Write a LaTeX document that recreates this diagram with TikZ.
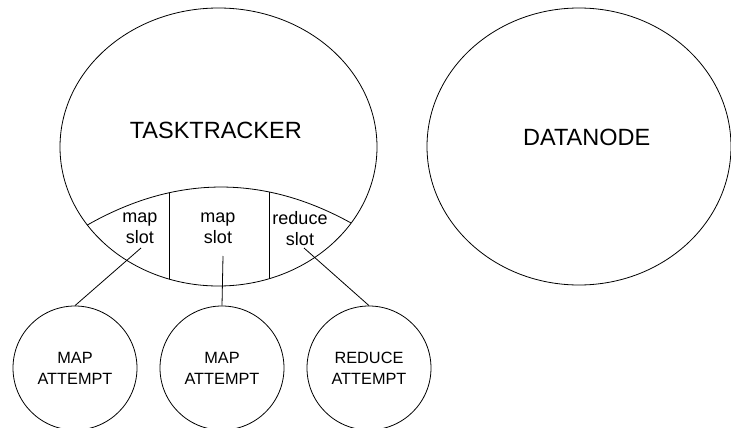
\documentclass[tikz,border=0pt]{standalone}
\usepackage{fontspec}
\setmainfont{Liberation Sans}
\usetikzlibrary{shapes.geometric}
\tikzset{
  line/.style={draw=black, line width=0.8pt},
  bigell/.style={ellipse, line, inner sep=0pt},
  attempt/.style={circle, line, minimum size=124pt, inner sep=0pt, align=center, font=\fontsize{16.3}{21}\selectfont},
  biglabel/.style={inner sep=0pt, font=\fontsize{23.5}{28}\selectfont},
  slotlabel/.style={inner sep=0pt, align=center, font=\fontsize{18}{21}\selectfont},
}
\begin{document}
\begin{tikzpicture}[x=1pt, y=-1pt]
\useasboundingbox (0,0) rectangle (731,428);
% main ellipses
\node[bigell, minimum width=317pt, minimum height=278pt] (tt) at (218.5,147) {};
\node[bigell, minimum width=304pt, minimum height=277pt] (dn) at (579,146.5) {};
\node[biglabel] (ttl) at (215.8,130) {TASKTRACKER};
\node[biglabel] (dnl) at (586.7,137) {DATANODE};
% slot arc and dividers, clipped to the tasktracker ellipse
\begin{scope}
  \clip (218.5,147) ellipse [x radius=158.5pt, y radius=139pt];
  \draw[line] (50,249.2) .. controls (164,166.3) and (278,166.3) .. (392,249.2);
  \clip (50,249.2) .. controls (164,166.3) and (278,166.3) .. (392,249.2) -- (392,320) -- (50,320) -- cycle;
  \draw[line] (169,150) -- (169,320);
  \draw[line] (269,150) -- (269,320);
\end{scope}
% slot labels
\node[slotlabel] (s1) at (140,228.5) {map\\slot};
\node[slotlabel] (s2) at (218,228.5) {map\\slot};
\node[slotlabel] (s3) at (300,228.5) {reduce\\slot};
\coordinate (e1) at (141,248);
\coordinate (e2) at (223,256);
\coordinate (e3) at (304,248);
% attempts
\node[attempt] (a1) at (75,368) {MAP\\ATTEMPT};
\node[attempt] (a2) at (222,368) {MAP\\ATTEMPT};
\node[attempt] (a3) at (369,368) {REDUCE\\ATTEMPT};
% connectors
\draw[line] (a1.north) -- (e1);
\draw[line] (a2.north) -- (e2);
\draw[line] (a3.north) -- (e3);
\end{tikzpicture}
\end{document}
